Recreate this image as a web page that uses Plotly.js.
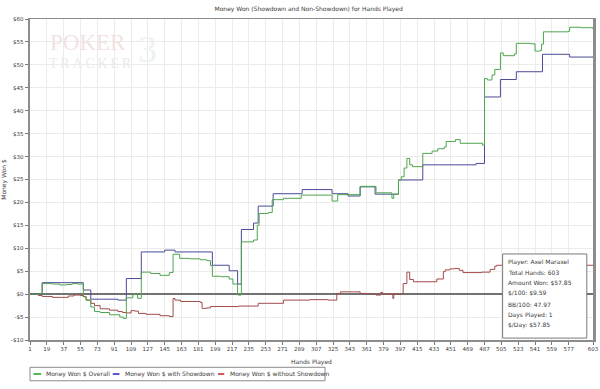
<!DOCTYPE html>
<html>
<head>
<meta charset="utf-8">
<script src="https://cdn.plot.ly/plotly-3.0.1.min.js"></script>
<style>html,body{margin:0;padding:0;background:#fff;}#chart{width:600px;height:389px;}</style>
</head>
<body>
<div id="chart"></div>
<script>
// ---- Data ----
const chartTitle = "Money Won (Showdown and Non-Showdown) for Hands Played";
const seriesNames = ["Money Won $ Overall", "Money Won $ with Showdown", "Money Won $ without Showdown"];

const greenHands = [1,14,25,33,40,46,52,58,61,66,70,76,86,97,101,104,111,116,120,130,140,150,154,161,172,183,190,194,196,205,214,218,223,227,240,244,246,256,260,272,291,300,324,330,354,371,388,390,395,398,401,404,407,410,421,431,437,444,446,456,461,485,487,490,495,498,504,507,519,521,536,541,546,548,550,576,578,590,603];
const greenVals  = [0,2.3,2.2,2.0,2.1,2.3,2.2,-0.6,-1.3,-2.8,-3.8,-4.0,-4.5,-5.0,-5.3,-0.8,-0.1,-0.9,4.8,4.5,4.1,4.7,8.7,7.8,7.7,7.5,7.3,6.2,3.9,3.8,3.3,2.2,-0.2,11.4,11.8,15.0,17.6,17.8,20.6,20.9,21.6,21.6,20.3,21.7,23.5,22.1,20.9,21.8,24.9,25.6,27.5,29.6,28.2,27.8,30.7,31.2,31.7,32.1,33.3,33.7,32.9,32.5,47.0,46.7,47.8,49.0,52.6,52.0,52.4,54.7,54.6,53.0,53.1,54.5,57.2,57.3,58.2,58.1,57.85];

const blueHands = [1,14,58,66,95,104,120,145,156,196,214,223,227,240,245,261,292,324,341,354,370,395,421,478,487,504,521,549,578,603];
const blueVals  = [0,2.5,0.9,-1.1,-1.3,3.4,9.2,9.6,9.2,6.3,5.1,2.2,14.1,15.5,19.2,21.9,22.8,21.9,21.4,23.4,21.8,24.9,28.2,28.5,43.0,46.8,48.5,52.3,51.7,51.6];

const redHands = [1,10,14,25,35,42,48,55,58,61,66,70,76,86,95,100,104,109,113,117,125,140,150,154,156,162,180,183,185,190,194,215,224,245,255,272,300,320,329,333,347,354,361,371,376,378,388,389,390,398,400,404,407,411,432,436,443,445,450,455,460,464,484,493,498,500,603];
const redVals  = [0,-0.3,-0.5,-0.7,-0.7,-0.4,-0.2,-0.3,-0.5,-1.3,-2.0,-2.5,-3.2,-3.5,-3.8,-4.0,-4.1,-3.6,-3.7,-4.2,-4.4,-4.7,-4.9,-0.95,-1.3,-1.6,-1.6,-1.8,-3.1,-3.0,-2.7,-2.7,-2.6,-2.0,-2.0,-1.3,-1.2,-1.3,0.15,0.5,0.5,0.15,0.1,-0.2,0.4,0.0,0.1,-0.95,0.0,0.0,2.3,4.8,3.2,2.7,2.7,3.3,4.9,5.3,5.5,5.6,5.2,4.7,4.8,5.4,6.1,6.3,6.25];

const xTickVals = [1,19,37,55,73,91,109,127,145,163,181,199,217,235,253,271,289,307,325,343,361,379,397,415,433,451,469,487,505,523,541,559,577,603];
const xTickText = ["1","19","37","55","73","91","109","127","145","163","181","199","217","235","253","271","289","307","325","343","361","379","397","415","433","451","469","487","505","523","541","559","577","603"];
const yTickVals = [-10,-5,0,5,10,15,20,25,30,35,40,45,50,55,60];
const yTickText = ["-$10","-$5","$0","$5","$10","$15","$20","$25","$30","$35","$40","$45","$50","$55","$60"];

const infoLines = ["Player: Axel Maraxel","Total Hands: 603","Amount Won: $57.85","$/100: $9.59","BB/100: 47.97","Days Played: 1","$/Day: $57.85"];

// ---- Styling ----
const FONT = "DejaVu Sans, Verdana, sans-serif";
const TXT = "#3a3a3a";
const lineColors = ["#4ea54e", "#4a4a98", "#a24a4a"];
const legendColors = ["#19a319", "#2323c8", "#c81e1e"];

const traces = [
  {x: greenHands, y: greenVals, name: seriesNames[0]},
  {x: blueHands, y: blueVals, name: seriesNames[1]},
  {x: redHands, y: redVals, name: seriesNames[2]}
].map((t, i) => Object.assign(t, {
  type: "scatter", mode: "lines",
  line: {color: lineColors[i], width: 1, shape: "hv"},
  hoverinfo: "skip"
}));
const ordered = [traces[2], traces[1], traces[0]];

const shapes = [
  {type: "rect", xref: "paper", yref: "paper", x0: 0, x1: 0.524, y0: -0.127, y1: -0.085,
   line: {color: "#8a8a8a", width: 1}, fillcolor: "rgba(0,0,0,0)", layer: "above"},
  {type: "rect", xref: "paper", yref: "paper", x0: 0.8395, x1: 0.989, y0: 0.006, y1: 0.268,
   line: {color: "#7a7a7a", width: 1}, fillcolor: "#ffffff", layer: "above"}
];
const legX = [[0.006, 0.020, 0.0245], [0.147, 0.159, 0.165], [0.334, 0.345, 0.351]];
const legY = -0.106;
const annotations = [];
legX.forEach((p, i) => {
  shapes.push({type: "line", xref: "paper", yref: "paper", x0: p[0], x1: p[1], y0: legY, y1: legY,
    line: {color: legendColors[i], width: 1.5}, layer: "above"});
  annotations.push({xref: "paper", yref: "paper", x: p[2], y: legY, xanchor: "left", yanchor: "middle",
    text: seriesNames[i], showarrow: false, font: {family: FONT, size: 6, color: TXT}});
});
const infoY = [0.244, 0.211, 0.178, 0.147, 0.111, 0.078, 0.046];
infoLines.forEach((s, i) => {
  annotations.push({xref: "paper", yref: "paper", x: 0.8455, y: infoY[i], xanchor: "left", yanchor: "middle",
    text: s, showarrow: false, font: {family: FONT, size: 6, color: TXT}});
});
// watermark
annotations.push({xref: "paper", yref: "paper", x: 0.103, y: 0.928, xanchor: "center", yanchor: "middle",
  text: "POKER", showarrow: false, font: {family: "Liberation Serif, serif", size: 23, color: "#f2e3e3"}});
annotations.push({xref: "paper", yref: "paper", x: 0.108, y: 0.862, xanchor: "center", yanchor: "middle",
  text: "T\u2009R\u2009A\u2009C\u2009K\u2009E\u2009R", showarrow: false, font: {family: "Liberation Serif, serif", size: 14, color: "#ebebeb"}});
annotations.push({xref: "paper", yref: "paper", x: 0.208, y: 0.905, xanchor: "center", yanchor: "middle",
  text: "3", showarrow: false, font: {family: "Liberation Serif, serif", size: 38, color: "#edf3ed"}});

const layout = {
  width: 600, height: 389,
  margin: {l: 30, r: 7, t: 19, b: 49, pad: 0},
  paper_bgcolor: "#ffffff", plot_bgcolor: "#ffffff",
  showlegend: false,
  hovermode: false,
  title: {text: chartTitle, font: {family: FONT, size: 6, color: TXT},
    x: 0.495, xanchor: "center", xref: "paper", y: 1 - 9/389, yref: "container", yanchor: "middle"},
  xaxis: {
    range: [1, 603], tickmode: "array", tickvals: xTickVals, ticktext: xTickText,
    tickfont: {family: FONT, size: 5.5, color: TXT}, tickangle: 0,
    showgrid: true, gridcolor: "#ebebeb", gridwidth: 1, zeroline: false,
    showline: true, linecolor: "#8c8c8c", linewidth: 1.5, mirror: true,
    ticks: "outside", ticklen: 3, tickcolor: "#777", tickwidth: 1,
    title: {text: "Hands Played", font: {family: FONT, size: 6, color: TXT}, standoff: 8},
    fixedrange: true
  },
  yaxis: {
    range: [-10, 60], tickmode: "array", tickvals: yTickVals, ticktext: yTickText,
    tickfont: {family: FONT, size: 5.5, color: TXT},
    showgrid: true, gridcolor: "#ebebeb", gridwidth: 1,
    zeroline: true, zerolinecolor: "#727272", zerolinewidth: 2,
    showline: true, linecolor: "#8c8c8c", linewidth: 2.5, mirror: true,
    ticks: "outside", ticklen: 3, tickcolor: "#777", tickwidth: 1,
    title: {text: "Money Won $", font: {family: FONT, size: 6, color: TXT}, standoff: 4},
    fixedrange: true
  },
  shapes: shapes,
  annotations: annotations
};

Plotly.newPlot("chart", ordered, layout, {displayModeBar: false, staticPlot: true});
</script>
</body>
</html>
